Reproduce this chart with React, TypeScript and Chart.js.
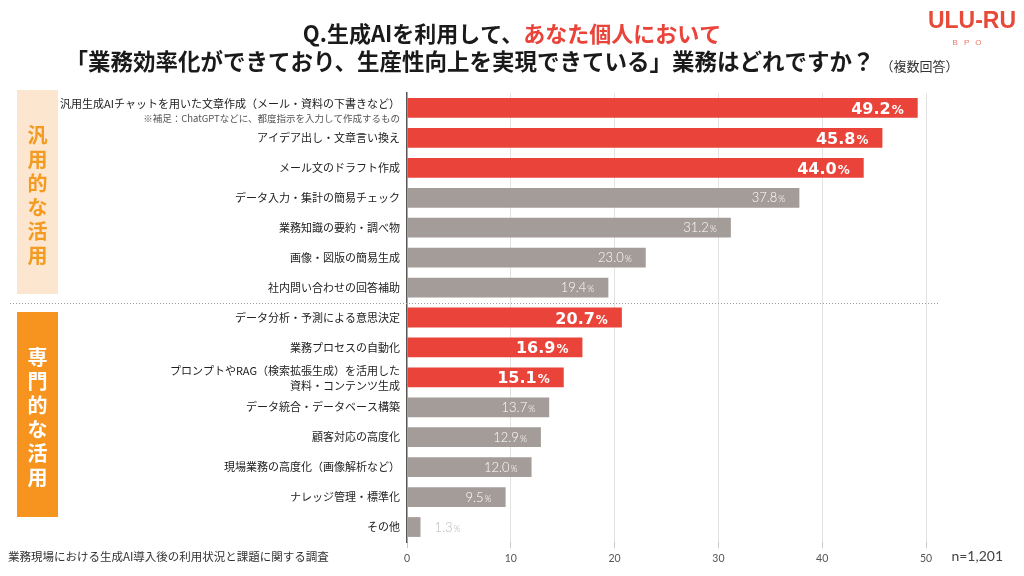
import React, { useEffect, useRef } from "react";
import { Chart, registerables } from "chart.js";

Chart.register(...registerables);

// Survey items, top to bottom (multi-line items are split into lines)
const categoryLines: string[][] = [
  ["汎用生成AIチャットを用いた文章作成（メール・資料の下書きなど）"],
  ["アイデア出し・文章言い換え"],
  ["メール文のドラフト作成"],
  ["データ入力・集計の簡易チェック"],
  ["業務知識の要約・調べ物"],
  ["画像・図版の簡易生成"],
  ["社内問い合わせの回答補助"],
  ["データ分析・予測による意思決定"],
  ["業務プロセスの自動化"],
  ["プロンプトやRAG（検索拡張生成）を活用した", "資料・コンテンツ生成"],
  ["データ統合・データベース構築"],
  ["顧客対応の高度化"],
  ["現場業務の高度化（画像解析など）"],
  ["ナレッジ管理・標準化"],
  ["その他"],
];

// Supplementary note printed under the first item
const firstItemNote = "※補足：ChatGPTなどに、都度指示を入力して作成するもの";

// Share of respondents (%)
const values: number[] = [49.2, 45.8, 44.0, 37.8, 31.2, 23.0, 19.4, 20.7, 16.9, 15.1, 13.7, 12.9, 12.0, 9.5, 1.3];

// Item groups, in order, with how many items each holds
const groupNames: string[] = ["汎用的な活用", "専門的な活用"];
const groupSizes: number[] = [7, 8];

// Top items of each group are emphasised
const highlightPerGroup = 3;

const xTicks: number[] = [0, 10, 20, 30, 40, 50];

const titleLead = "Q.生成AIを利用して、";
const titleAccent = "あなた個人において";
const titleLine2 = "「業務効率化ができており、生産性向上を実現できている」業務はどれですか？";
const titleNote = "（複数回答）";
const sourceText = "業務現場における生成AI導入後の利用状況と課題に関する調査";
const sampleText = "n=1,201";

const RED = "#e9433a";
const GRAY = "#a39c98";
const JP = '"Noto Sans CJK JP", "Noto Sans", sans-serif';

const indexInGroup: number[] = [];
groupSizes.forEach((n) => {
  for (let k = 0; k < n; k++) indexInGroup.push(k);
});
const highlighted = indexInGroup.map((k) => k < highlightPerGroup);
const barColors = highlighted.map((h) => (h ? RED : GRAY));

const decorPlugin = {
  id: "decor",
  beforeDatasetsDraw(chart: any) {
    const ctx = chart.ctx as CanvasRenderingContext2D;
    ctx.save();
    // Group side panels
    const panels = [
      { top: 90, bottom: 294, fill: "#fde6cf", text: "#f39a20" },
      { top: 312, bottom: 517, fill: "#f7941f", text: "#ffffff" },
    ];
    panels.forEach((p, g) => {
      ctx.fillStyle = p.fill;
      ctx.fillRect(17, p.top, 41, p.bottom - p.top);
      const chars = Array.from(groupNames[g]);
      const step = 24;
      const mid = (p.top + p.bottom) / 2 + 3;
      const start = mid - ((chars.length - 1) * step) / 2;
      ctx.fillStyle = p.text;
      ctx.font = `bold 20px ${JP}`;
      ctx.textAlign = "center";
      ctx.textBaseline = "middle";
      chars.forEach((c, k) => ctx.fillText(c, 37.5, start + k * step));
    });

    // Dotted separator between the two groups
    const y = chart.scales.y;
    const sepIndex = groupSizes[0];
    const sy = Math.round((y.getPixelForValue(sepIndex - 1) + y.getPixelForValue(sepIndex)) / 2) + 0.5;
    ctx.strokeStyle = "#9a9a9a";
    ctx.lineWidth = 1;
    ctx.setLineDash([1, 2]);
    ctx.beginPath();
    ctx.moveTo(10, sy);
    ctx.lineTo(940, sy);
    ctx.stroke();
    ctx.restore();
  },
  afterDraw(chart: any) {
    const ctx = chart.ctx as CanvasRenderingContext2D;
    const yScale = chart.scales.y;
    const meta = chart.getDatasetMeta(0);
    ctx.save();

    // Title
    ctx.textBaseline = "middle";
    ctx.textAlign = "left";
    ctx.font = `bold 22px ${JP}`;
    const wLead = ctx.measureText(titleLead).width;
    const wAcc = ctx.measureText(titleAccent).width;
    const tx = 512 - (wLead + wAcc) / 2;
    ctx.fillStyle = "#1a1a1a";
    ctx.fillText(titleLead, tx, 34);
    ctx.fillStyle = RED;
    ctx.fillText(titleAccent, tx + wLead, 34);

    ctx.font = `bold 22.5px ${JP}`;
    const w2 = ctx.measureText(titleLine2).width;
    ctx.font = `13px ${JP}`;
    const wNote = ctx.measureText(titleNote).width;
    const x2 = 512 - (w2 + 6 + wNote) / 2;
    ctx.font = `bold 22.5px ${JP}`;
    ctx.fillStyle = "#1a1a1a";
    ctx.fillText(titleLine2, x2, 61);
    ctx.font = `13px ${JP}`;
    ctx.fillStyle = "#333";
    ctx.fillText(titleNote, x2 + w2 + 6, 66);

    // Logo
    ctx.textAlign = "center";
    ctx.fillStyle = "#e84a3a";
    ctx.font = 'bold 23px "Liberation Sans Narrow", "Liberation Sans", sans-serif';
    ctx.fillText("ULU-RU", 972, 22);
    ctx.font = '8px "Liberation Sans", sans-serif';
    (ctx as any).letterSpacing = "6px";
    ctx.fillStyle = "#ea7a68";
    ctx.fillText("BPO", 970, 43);
    (ctx as any).letterSpacing = "0px";

    // Item labels
    ctx.textAlign = "right";
    categoryLines.forEach((lines, i) => {
      const cy = yScale.getPixelForValue(i);
      ctx.fillStyle = "#222";
      ctx.font = `11px ${JP}`;
      if (i === 0) {
        ctx.fillText(lines[0], 400, cy - 4);
        ctx.font = `9.5px ${JP}`;
        ctx.fillStyle = "#555";
        ctx.fillText(firstItemNote, 400, cy + 10);
      } else if (lines.length === 2) {
        ctx.fillText(lines[0], 400, cy - 7);
        ctx.fillText(lines[1], 400, cy + 8);
      } else {
        ctx.fillText(lines[0], 400, cy);
      }
    });

    // Value labels
    ctx.textBaseline = "alphabetic";
    meta.data.forEach((bar: any, i: number) => {
      const v = values[i];
      const num = v.toFixed(1);
      const strong = highlighted[i];
      const numFont = strong ? 'bold 16px "DejaVu Sans", sans-serif' : '300 13px Lato, sans-serif';
      const pctFont = strong ? 'bold 12px "DejaVu Sans", sans-serif' : '300 9px Lato, sans-serif';
      ctx.font = numFont;
      const wn = ctx.measureText(num).width;
      ctx.font = pctFont;
      const wp = ctx.measureText("%").width;
      const inside = v >= 5;
      const left = inside ? bar.x - 14 - (wn + wp + 1) : bar.x + 14;
      const base = bar.y + (strong ? 6 : 4.5);
      ctx.textAlign = "left";
      ctx.fillStyle = inside ? "#ffffff" : "#b8b8b8";
      ctx.font = numFont;
      ctx.fillText(num, left, base);
      ctx.font = pctFont;
      ctx.fillText("%", left + wn + 1, base);
    });

    // Footer
    ctx.textBaseline = "middle";
    ctx.textAlign = "left";
    ctx.fillStyle = "#333";
    ctx.font = `11.5px ${JP}`;
    ctx.fillText(sourceText, 8, 557);
    ctx.textAlign = "right";
    ctx.font = "14px Lato, sans-serif";
    ctx.fillStyle = "#444";
    ctx.fillText(sampleText, 1003, 556);
    ctx.restore();
  },
};

export default function App() {
  const canvasRef = useRef<HTMLCanvasElement>(null);

  useEffect(() => {
    const chart = new Chart(canvasRef.current as HTMLCanvasElement, {
      type: "bar",
      data: {
        labels: categoryLines.map((l) => l.join("")),
        datasets: [
          {
            data: values,
            backgroundColor: barColors,
            borderWidth: 0,
            barPercentage: 0.66,
            categoryPercentage: 1,
          },
        ],
      },
      options: {
        indexAxis: "y",
        responsive: false,
        animation: false,
        layout: { padding: { left: 407, right: 98, top: 93, bottom: 0 } },
        plugins: { legend: { display: false }, tooltip: { enabled: false } },
        scales: {
          x: {
            min: 0,
            max: 50,
            afterFit: (s: any) => {
              s.height = 34;
            },
            afterBuildTicks: (s: any) => {
              s.ticks = xTicks.map((v) => ({ value: v }));
            },
            ticks: {
              color: "#555",
              font: { family: "Lato, sans-serif", size: 10.5 },
              padding: 4,
              maxRotation: 0,
            },
            grid: {
              color: (c: any) => (c.tick && c.tick.value === 0 ? "rgba(0,0,0,0)" : "#e2e2e2"),
              tickColor: "#c8c8c8",
              tickLength: 6,
              lineWidth: 1,
            },
            border: { display: false },
          },
          y: {
            afterFit: (s: any) => {
              s.width = 0;
            },
            ticks: { display: false },
            grid: { display: false },
            border: { color: "#555", width: 1.5 },
          },
        },
      },
      plugins: [decorPlugin],
    });
    return () => chart.destroy();
  }, []);

  return (
    <div style={{ position: "absolute", left: 0, top: 0, width: 1024, height: 576, background: "#fff" }}>
      <canvas ref={canvasRef} width={1024} height={576} />
    </div>
  );
}
